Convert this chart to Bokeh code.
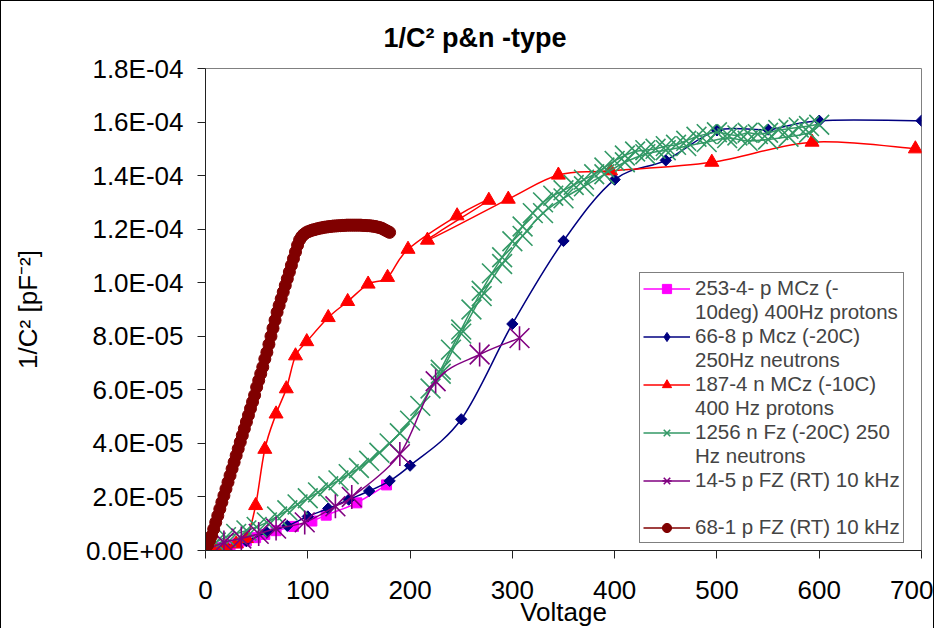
from bokeh.plotting import figure
from bokeh.models import Range1d, FixedTicker, Legend, LegendItem, ColumnDataSource
from bokeh.embed import file_html
from bokeh.resources import INLINE

FONT = "Liberation Sans"

title_text = "1/C² p&n -type"
x_label = "Voltage"
y_label = "1/C² [pF⁻²]"
x_ticks = [0, 100, 200, 300, 400, 500, 600, 700]
y_ticks_e5 = [0, 2, 4, 6, 8, 10, 12, 14, 16, 18]
y_tick_labels = ["0.0E+00", "2.0E-05", "4.0E-05", "6.0E-05", "8.0E-05",
                 "1.0E-04", "1.2E-04", "1.4E-04", "1.6E-04", "1.8E-04"]

# values of 1/C^2 are given in units of 1E-05 pF^-2
pink_v = [0, 8, 16, 24, 32, 40, 49, 58, 69, 86, 104, 118, 148, 177]
pink_c = [0.0, 0.05, 0.12, 0.2, 0.28, 0.36, 0.48, 0.6, 0.74, 0.9, 1.1, 1.32, 1.78, 2.45]

blue_v = [0, 20, 40, 60, 80, 100, 120, 140, 160, 180, 200, 250, 300, 350, 400,
          450, 500, 550, 600, 700]
blue_c = [0.0, 0.15, 0.35, 0.68, 0.92, 1.27, 1.57, 1.9, 2.22, 2.6, 3.17, 4.9, 8.46,
          11.56, 13.85, 14.57, 15.69, 15.72, 16.05, 16.05]

red_v = [0, 10, 20, 30, 40, 49, 58, 69, 79, 88, 99, 120, 139, 159, 178, 198, 246,
         277, 217, 296, 345, 396, 495, 593, 694]
red_c = [0.0, 0.05, 0.12, 0.25, 0.45, 1.68, 3.78, 5.1, 6.04, 7.27, 7.8, 8.7, 9.3,
         9.95, 10.2, 11.25, 12.5, 13.08, 11.59, 13.12, 14.02, 14.18, 14.5, 15.25, 15.0]

green_v = [0, 10, 20, 30, 40, 50, 60, 70, 80, 90, 100, 110, 120, 130, 140, 150, 160,
           170, 180, 190, 200, 210, 220, 230, 240, 250, 260, 270, 280, 290, 300, 310,
           320, 330, 340, 350, 360, 370, 380, 390, 400, 410, 420, 430, 440, 450, 460,
           470, 480, 490, 500, 510, 520, 530, 540, 550, 560, 570, 580, 590, 600,
           590, 570, 550, 530, 510, 490, 470, 450, 430, 410, 390, 370, 350, 330, 310,
           290, 270, 250, 230]
green_c = [0.0, 0.3, 0.5, 0.62, 0.75, 0.88, 1.05, 1.27, 1.5, 1.72, 1.95, 2.17, 2.4,
           2.62, 2.85, 3.08, 3.35, 3.65, 4.0, 4.38, 4.85, 5.4, 6.05, 6.75, 7.5, 8.25,
           9.0, 9.7, 10.35, 10.95, 11.55, 12.1, 12.6, 13.0, 13.25, 13.45, 13.65, 13.85,
           14.05, 14.3, 14.55, 14.75, 14.9, 14.95, 15.0, 15.1, 15.15, 15.3, 15.45, 15.55,
           15.62, 15.55, 15.5, 15.6, 15.55, 15.6, 15.7, 15.75, 15.8, 15.85, 15.9,
           15.6, 15.45, 15.35, 15.3, 15.4, 15.25, 15.1, 14.95, 14.8, 14.5, 14.05, 13.6,
           13.15, 12.6, 11.75, 10.7, 9.5, 8.1, 6.6]

purple_v = [0, 18, 35, 52, 69, 97, 127, 143, 190, 225, 268, 307]
purple_c = [0.0, 0.3, 0.45, 0.62, 0.82, 1.05, 1.65, 2.0, 3.6, 6.32, 7.32, 7.93]

dkred_v = list(range(0, 182, 2))
dkred_c = [0.0, 0.2, 0.38, 0.55, 0.8, 1.05, 1.3, 1.55, 1.8, 2.05, 2.3, 2.55, 2.8,
           3.05, 3.3, 3.55, 3.8, 4.05, 4.3, 4.55, 4.8, 5.05, 5.3, 5.55, 5.8, 6.1,
           6.35, 6.6, 6.85, 7.15, 7.4, 7.7, 8.0, 8.3, 8.6, 8.9, 9.15, 9.4, 9.65, 9.9,
           10.15, 10.4, 10.65, 10.9, 11.15, 11.4, 11.6, 11.72, 11.8, 11.86, 11.9,
           11.93, 11.96, 11.98, 12.0, 12.02, 12.04, 12.05, 12.07, 12.08, 12.09, 12.1,
           12.11, 12.12, 12.12, 12.13, 12.13, 12.14, 12.14, 12.15, 12.15, 12.15, 12.15,
           12.15, 12.15, 12.15, 12.15, 12.14, 12.14, 12.13, 12.13, 12.12, 12.11, 12.1,
           12.08, 12.06, 12.04, 12.0, 11.96, 11.92, 11.88]

legend_labels = [
    "253-4- p MCz (-", "10deg) 400Hz protons",
    "66-8 p Mcz (-20C)", "250Hz neutrons",
    "187-4 n MCz (-10C)", "400 Hz protons",
    "1256 n Fz (-20C) 250", "Hz neutrons",
    "14-5 p FZ (RT) 10 kHz", " ",
    "68-1 p FZ (RT) 10 kHz",
]


def smooth_source(xs, ys):
    """Bezier segments through the data points (Excel-like smoothed line)."""
    n = len(xs)
    d = dict(x0=[], y0=[], x1=[], y1=[], cx0=[], cy0=[], cx1=[], cy1=[])
    for i in range(n - 1):
        a = max(i - 1, 0)
        b = min(i + 2, n - 1)
        d["x0"].append(xs[i]); d["y0"].append(ys[i])
        d["x1"].append(xs[i + 1]); d["y1"].append(ys[i + 1])
        d["cx0"].append(xs[i] + (xs[i + 1] - xs[a]) / 6.0)
        d["cy0"].append(ys[i] + (ys[i + 1] - ys[a]) / 6.0)
        d["cx1"].append(xs[i + 1] - (xs[b] - xs[i]) / 6.0)
        d["cy1"].append(ys[i + 1] - (ys[b] - ys[i]) / 6.0)
    return ColumnDataSource(d)


p = figure(width=934, height=628, x_range=Range1d(0, 700), y_range=Range1d(0, 18),
           output_backend="svg", toolbar_location=None,
           min_border_left=204, min_border_right=14, min_border_top=67,
           min_border_bottom=79, background_fill_color="white",
           border_fill_color="white", outline_line_color="#808080")
p.styles = {"border-top": "1px solid black", "border-left": "1px solid black",
            "border-right": "1px solid black"}
p.grid.visible = False

p.title.text = title_text
p.title.align = "left"
p.title.vertical_align = "bottom"
p.title.offset = 178
p.title.text_font = FONT
p.title.text_font_size = "27px"
p.title.text_font_style = "bold"
p.title.text_color = "black"
p.title.standoff = 32

for ax in (p.xaxis[0], p.yaxis[0]):
    ax.axis_line_color = "#222222"
    ax.major_tick_line_color = "#222222"
    ax.major_tick_out = 8
    ax.major_tick_in = 0
    ax.minor_tick_line_color = None
    ax.major_label_text_font = FONT
    ax.major_label_text_font_size = "26px"
    ax.major_label_text_color = "black"
    ax.axis_label_text_font = FONT
    ax.axis_label_text_font_size = "26px"
    ax.axis_label_text_font_style = "normal"
    ax.axis_label_text_color = "black"

p.xaxis[0].ticker = FixedTicker(ticks=x_ticks, minor_ticks=[])
p.xaxis[0].axis_label = x_label
p.xaxis[0].major_label_standoff = 22
p.xaxis[0].axis_label_standoff = -5

p.yaxis[0].ticker = FixedTicker(ticks=y_ticks_e5, minor_ticks=[])
p.yaxis[0].major_label_overrides = {t: s for t, s in zip(y_ticks_e5, y_tick_labels)}
p.yaxis[0].axis_label = y_label
p.yaxis[0].major_label_standoff = 14
p.yaxis[0].axis_label_standoff = 40

empty = ColumnDataSource(dict(x=[], y=[]))
blank = p.line("x", "y", source=empty, line_alpha=0)

# (x values, y values, colour, plot markers, legend marker)
series = [
    (pink_v, pink_c, "#FF00FF", [dict(marker="square", size=10)], None),
    (blue_v, blue_c, "#000080", [dict(marker="square", size=8, angle=0.7854)],
     dict(marker="diamond", size=0.1)),
    (red_v, red_c, "#FF0000", [dict(marker="triangle", size=14)], None),
    (green_v, green_c, "#339966", [dict(marker="x", size=28, line_width=1.6)], None),
    (purple_v, purple_c, "#800080",
     [dict(marker="x", size=28, line_width=1.6),
      dict(marker="dash", size=24, angle=1.5708, line_width=1.6)], None),
    (dkred_v, dkred_c, "#800000", [dict(marker="circle", size=12)], None),
]

items = []
for k, (vx, vy, col, marks, legend_mark) in enumerate(series):
    curve = p.bezier(x0="x0", y0="y0", x1="x1", y1="y1", cx0="cx0", cy0="cy0",
                     cx1="cx1", cy1="cy1", source=smooth_source(vx, vy),
                     line_color=col, line_width=1.5)
    src = ColumnDataSource(dict(x=vx, y=vy))
    rs = [curve]
    if legend_mark is not None:
        # tiny marker hidden under the plotted markers; drawn full size in the legend
        rs.append(p.scatter("x", "y", source=src, color=col, **legend_mark))
    plotted = [p.scatter("x", "y", source=src, color=col, **m) for m in marks]
    if legend_mark is None:
        rs += plotted
    items.append(LegendItem(label=legend_labels[2 * k], renderers=rs))
    if 2 * k + 1 < len(legend_labels):
        items.append(LegendItem(label=legend_labels[2 * k + 1], renderers=[blank]))

legend = Legend(items=items, location=(434, 7), border_line_color="black",
                border_line_width=1, background_fill_color="white",
                background_fill_alpha=1.0, label_text_font=FONT,
                label_text_font_size="20.5px", glyph_width=47, glyph_height=23,
                label_height=23, spacing=0, padding=3, margin=0, label_standoff=5)
p.add_layout(legend)

open("out.html", "w").write(file_html(p, INLINE))
